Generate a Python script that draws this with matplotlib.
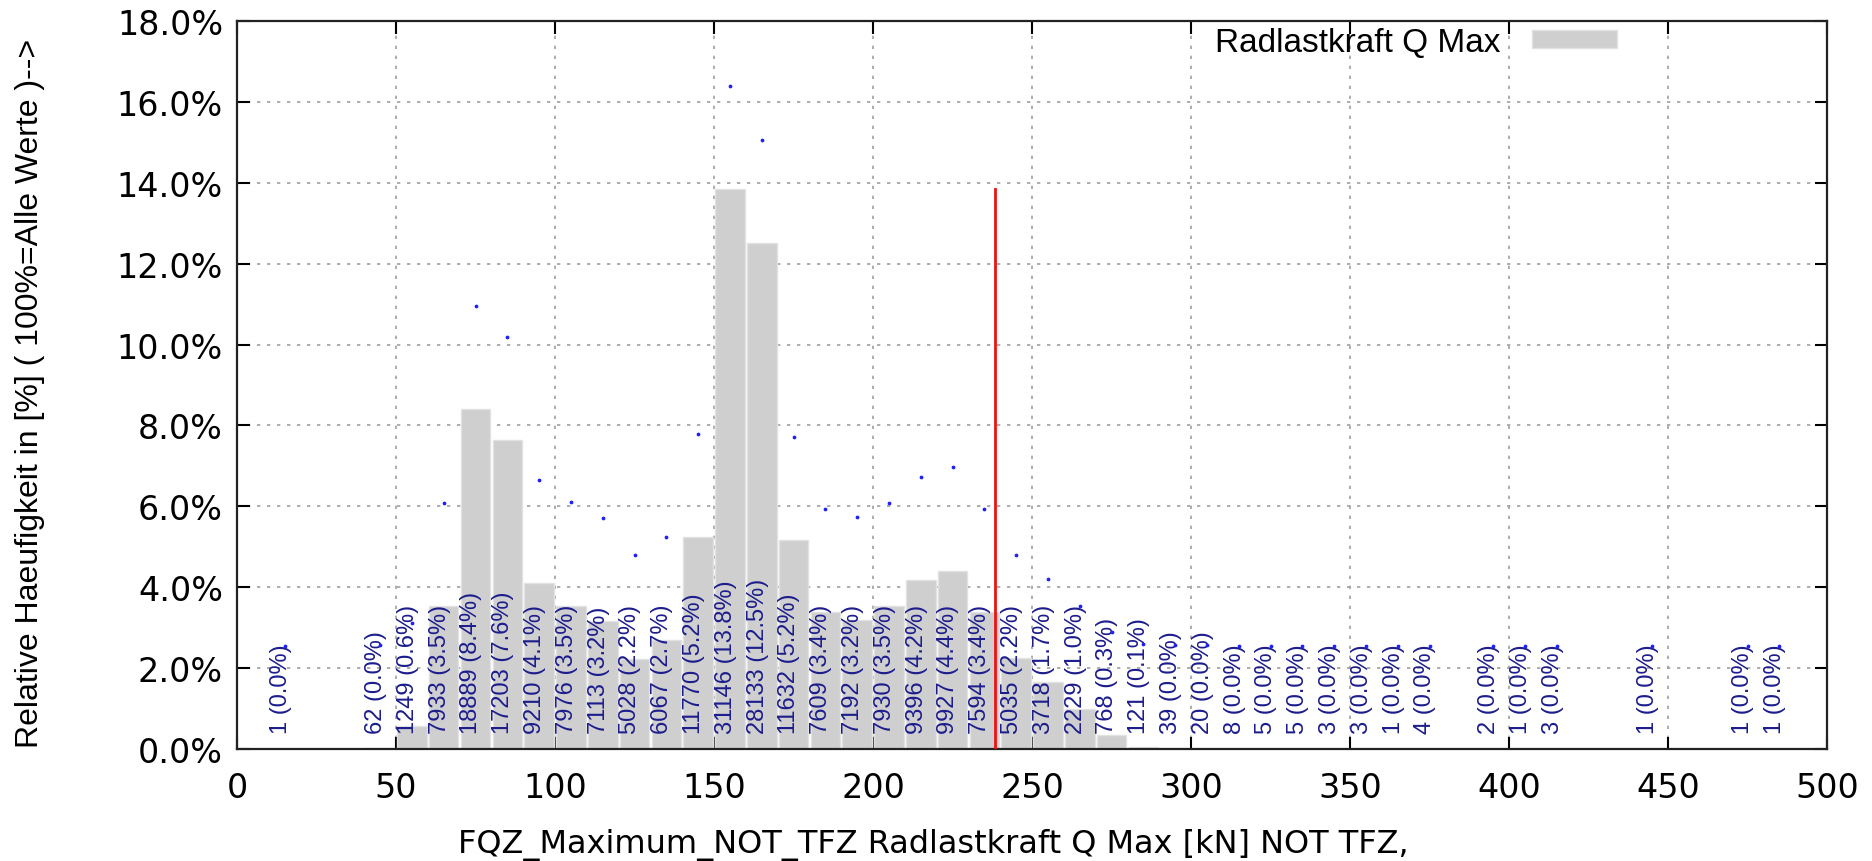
import matplotlib
matplotlib.use("Agg")
import matplotlib.pyplot as plt
from matplotlib import font_manager

# Class lower bounds [kN] (bin width 10) and counts per class
bin_starts = [10, 40, 50, 60, 70, 80, 90, 100, 110, 120, 130, 140, 150, 160, 170,
              180, 190, 200, 210, 220, 230, 240, 250, 260, 270, 280, 290, 300,
              310, 320, 330, 340, 350, 360, 370, 390, 400, 410, 440, 470, 480]
counts = [1, 62, 1249, 7933, 18889, 17203, 9210, 7976, 7113, 5028, 6067, 11770,
          31146, 28133, 11632, 7609, 7192, 7930, 9396, 9927, 7594, 5035, 3718,
          2229, 768, 121, 39, 20, 8, 5, 5, 3, 3, 1, 4, 2, 1, 3, 1, 1, 1]
bin_width = 10
mean_value = 238.5  # red reference line [kN]

x_ticks = [0, 50, 100, 150, 200, 250, 300, 350, 400, 450, 500]
y_ticks = [0, 2, 4, 6, 8, 10, 12, 14, 16, 18]

series_name = "Radlastkraft Q Max"
x_label = "FQZ_Maximum_NOT_TFZ Radlastkraft Q Max [kN] NOT TFZ,"
y_label = "Relative Haeufigkeit in [%] ( 100%=Alle Werte )-->"

names = {f.name for f in font_manager.fontManager.ttflist}
narrow = "Liberation Sans Narrow" if "Liberation Sans Narrow" in names else "Liberation Sans"
plt.rcParams["font.family"] = ["Liberation Sans", "DejaVu Sans"]

total = sum(counts)
pct = [100.0 * c / total for c in counts]
centers = [b + bin_width / 2 for b in bin_starts]

fig = plt.figure(figsize=(18.72, 8.62), dpi=100)
ax = fig.add_axes([0.1266, 0.1300, 0.976 - 0.1266, 0.9745 - 0.1300])

ax.bar(centers, pct, width=bin_width * 0.93, color="#cfcfcf",
       edgecolor="#e2e2e2", linewidth=1.0, zorder=2, label=series_name)

# Count / share labels and marker dots above each class
for xc, c, p in zip(centers, counts, pct):
    ax.text(xc - 1.3, 0.40, f"{c} ({p:.1f}%)", rotation=90, ha="center", va="bottom",
            color="#1c1c8c", fontsize=17, family=[narrow, "DejaVu Sans"], zorder=4)
    ax.plot(xc, p + 2.55, marker="o", markersize=1.7, color="#2020ff",
            linestyle="none", zorder=5)

ax.plot([mean_value, mean_value], [0, max(pct)], color="#ee1111", linewidth=2, zorder=3)

ax.set_xlim(0, 500)
ax.set_ylim(0, 18)
ax.set_xticks(x_ticks)
ax.set_yticks(y_ticks)
ax.set_yticklabels([f"{v:.1f}%" for v in y_ticks])
ax.tick_params(direction="in", length=9, width=1.5, top=True, right=True,
               labelsize=24, pad=10, colors="black", labelfontfamily="DejaVu Sans")
ax.tick_params(axis="x", pad=16)
ax.grid(True, color="#a0a0a0", linestyle=(0, (2, 4)), linewidth=1.2, zorder=1)
for s in ax.spines.values():
    s.set_linewidth(1.6)
    s.set_color("#222222")

ax.set_xlabel(x_label, fontsize=23, family=["DejaVu Sans"])
ax.xaxis.set_label_coords(0.438, -0.108)
ax.set_ylabel(y_label, fontsize=23, family=[narrow, "DejaVu Sans"])
ax.yaxis.set_label_coords(-0.121, 0.49)

leg = ax.legend(loc="upper right", frameon=False, fontsize=24, markerfirst=False,
                handlelength=2.55, handleheight=0.42, handletextpad=0.95,
                borderaxespad=0.0, borderpad=0.0,
                bbox_to_anchor=(0.868, 1 - 6 / 728))

fig.savefig("out.png", dpi=100)
